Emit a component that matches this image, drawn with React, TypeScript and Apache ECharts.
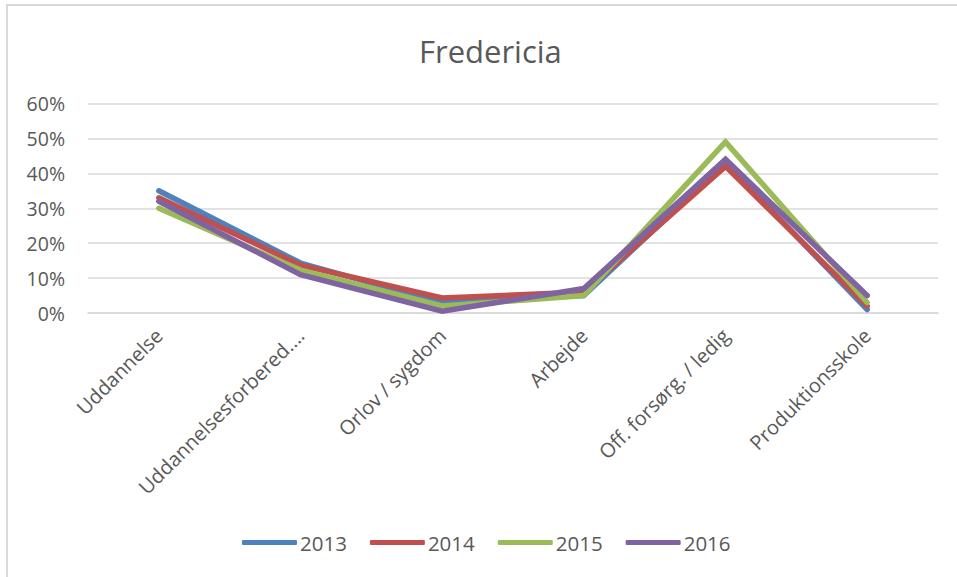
import React, { useEffect, useRef } from "react";
import * as echarts from "echarts";

const categories = [
  "Uddannelse",
  "Uddannelsesforbered....",
  "Orlov / sygdom",
  "Arbejde",
  "Off. forsørg. / ledig",
  "Produktionsskole",
];
const years = ["2013", "2014", "2015", "2016"];
const v2013 = [0.35, 0.143, 0.03, 0.05, 0.43, 0.01];
const v2014 = [0.33, 0.137, 0.043, 0.06, 0.42, 0.02];
const v2015 = [0.30, 0.123, 0.02, 0.05, 0.49, 0.03];
const v2016 = [0.32, 0.11, 0.005, 0.07, 0.44, 0.05];
const yTicks = [0, 0.1, 0.2, 0.3, 0.4, 0.5, 0.6];
const colors = ["#4F81BD", "#C0504D", "#9BBB59", "#8064A2"];

const FONT = "'Open Sans', sans-serif";
const TEXT = "#595959";

export default function App() {
  const ref = useRef<HTMLDivElement>(null);
  useEffect(() => {
    if (!ref.current) return;
    const chart = echarts.init(ref.current, undefined, { renderer: "svg" });
    const data = [v2013, v2014, v2015, v2016];
    chart.setOption({
      animation: false,
      backgroundColor: "#ffffff",
      textStyle: { fontFamily: FONT },
      title: {
        text: "Fredericia",
        left: 414,
        top: 30,
        textStyle: { fontFamily: FONT, fontSize: 31, fontWeight: "normal", color: TEXT },
      },
      graphic: [
        {
          type: "rect",
          shape: { x: 7, y: 5, width: 1200, height: 1200 },
          style: { fill: "none", stroke: "#d9d9d9", lineWidth: 2 },
          silent: true,
        },
      ],
      legend: {
        data: years,
        left: 237,
        top: 527,
        icon: "roundRect",
        itemWidth: 55,
        itemHeight: 5,
        itemGap: 23,
        textStyle: { fontFamily: FONT, fontSize: 20.5, color: TEXT, padding: [0, 0, 0, -2] },
      },
      grid: { left: 88, right: 19, top: 103.5, bottom: 264, containLabel: false },
      xAxis: {
        type: "category",
        data: categories,
        boundaryGap: true,
        axisLine: { show: true, lineStyle: { color: "#d9d9d9", width: 1.5 } },
        axisTick: { show: false },
        axisLabel: {
          rotate: 45,
          interval: 0,
          margin: 19,
          fontFamily: FONT,
          fontSize: 20,
          color: TEXT,
        },
      },
      yAxis: {
        type: "value",
        min: 0,
        max: 0.6,
        interval: 0.1,
        axisLine: { show: false },
        axisTick: { show: false },
        splitLine: { lineStyle: { color: "#d9d9d9", width: 1.5 } },
        axisLabel: {
          margin: 23,
          fontFamily: FONT,
          fontSize: 19.5,
          color: TEXT,
          formatter: (v: number) => {
            const t = yTicks.find((x) => Math.abs(x - v) < 1e-9);
            return Math.round((t ?? v) * 100) + "%";
          },
        },
      },
      series: years.map((y, i) => ({
        name: y,
        type: "line",
        data: data[i],
        symbol: "none",
        lineStyle: { width: 5.5, color: colors[i], cap: "round", join: "miter" },
        itemStyle: { color: colors[i] },
        z: 2 + i,
      })),
    });
    return () => chart.dispose();
  }, []);
  return (
    <div
      ref={ref}
      style={{ position: "fixed", left: 0, top: 0, width: 957, height: 577 }}
    />
  );
}
